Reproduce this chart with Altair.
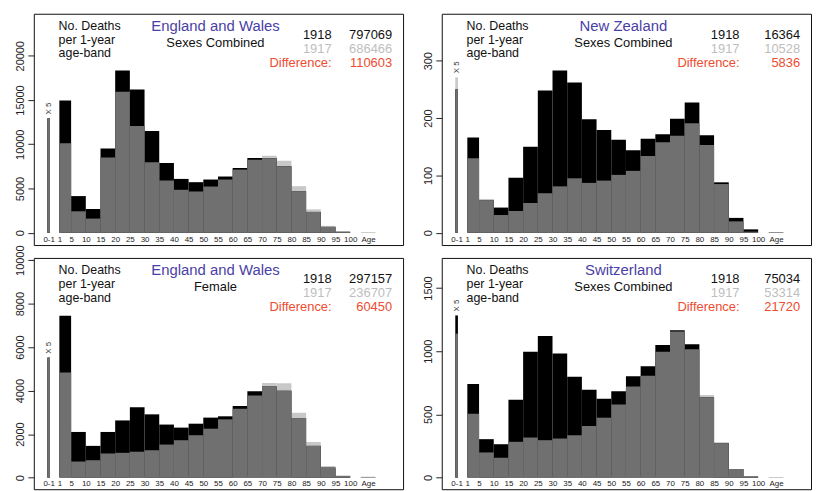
import altair as alt
import pandas as pd

FONT = "Liberation Sans"

# bins: infant (0-1, shown x5 scaled), 1-5, 5-10, ..., 95-100, 100+
bin_start = [-3.1, 1, 5, 10, 15, 20, 25, 30, 35, 40, 45, 50, 55, 60, 65, 70, 75, 80, 85, 90, 95, 103.6]
bin_end = [-2.2, 5, 10, 15, 20, 25, 30, 35, 40, 45, 50, 55, 60, 65, 70, 75, 80, 85, 90, 95, 100, 108.6]

x_tick_values = [-2.65, 1, 5, 10, 15, 20, 25, 30, 35, 40, 45, 50, 55, 60, 65, 70, 75, 80, 85, 90, 95, 100, 106.1]

left_label = ["No. Deaths", "per 1-year", "age-band"]

# England and Wales, sexes combined
ew_1918 = [12930, 14950, 4150, 2690, 9530, 18320, 16190, 11510, 7890, 6090, 5720, 6020, 6360, 7330, 8450, 8410, 7510, 4710, 2360, 670, 110, 10]
ew_1917 = [12930, 10130, 2430, 1610, 8520, 15920, 12070, 7960, 5910, 4860, 4670, 5230, 6020, 7140, 8260, 8710, 8150, 5270, 2650, 790, 190, 40]
# New Zealand, sexes combined
nz_1918 = [250, 166, 57, 44, 96, 150, 248, 283, 262, 198, 179, 162, 144, 164, 172, 199, 227, 170, 88, 26, 6, 0.5]
nz_1917 = [271, 130, 59, 31, 38, 52, 69, 81, 95, 87, 91, 101, 108, 134, 158, 169, 191, 153, 85, 20, 2, 1]
# England and Wales, female
ewf_1918 = [5520, 7440, 2100, 1460, 2100, 2630, 3240, 2910, 2440, 2300, 2480, 2760, 2820, 3290, 3970, 4190, 4000, 2740, 1460, 460, 76, 10]
ewf_1917 = [5520, 4840, 740, 800, 1110, 1140, 1190, 1260, 1520, 1720, 1950, 2250, 2680, 3170, 3780, 4350, 4340, 2980, 1640, 530, 90, 45]
# Switzerland, sexes combined
ch_1918 = [1283, 741, 304, 264, 615, 995, 1120, 982, 798, 696, 623, 683, 801, 880, 1050, 1165, 1055, 636, 275, 68, 8, 1]
ch_1917 = [1139, 505, 199, 157, 283, 317, 296, 309, 335, 408, 474, 579, 720, 806, 995, 1155, 1016, 654, 273, 68, 8, 1.5]

panels = [
    dict(title="England and Wales", sub="Sexes Combined", v18=ew_1918, v17=ew_1917,
         totals=["797069", "686466", "110603"], dom=[-1379, 24742], ticks=[0, 5000, 10000, 15000, 20000]),
    dict(title="New Zealand", sub="Sexes Combined", v18=nz_1918, v17=nz_1917,
         totals=["16364", "10528", "5836"], dom=[-21.3, 381.8], ticks=[0, 100, 200, 300]),
    dict(title="England and Wales", sub="Female", v18=ewf_1918, v17=ewf_1917,
         totals=["297157", "236707", "60450"], dom=[-534, 10105], ticks=[0, 2000, 4000, 6000, 8000, 10000]),
    dict(title="Switzerland", sub="Sexes Combined", v18=ch_1918, v17=ch_1917,
         totals=["75034", "53314", "21720"], dom=[-92, 1738], ticks=[0, 500, 1000, 1500]),
]

row_names = ["1918", "1917", "Difference:"]
row_colors = ["#111111", "#BEBEBE", "#EE4B30"]

W, H = 372, 233
DARK = "#707070"
LIGHT = "#C8C8C8"


def text_layer(t, x, y, align, size, color):
    return alt.Chart(pd.DataFrame({"t": [t]})).mark_text(
        align=align, baseline="middle", fontSize=size, color=color, font=FONT
    ).encode(text="t:N", x=alt.value(x), y=alt.value(y))


def make_panel(p):
    df = pd.DataFrame({"start": bin_start, "end": bin_end, "v18": p["v18"], "v17": p["v17"]})
    df["vmin"] = df[["v18", "v17"]].min(axis=1)
    df["vmax"] = df[["v18", "v17"]].max(axis=1)
    df["mid"] = (df["start"] + df["end"]) / 2
    df["base"] = 0

    xsc = alt.Scale(domain=[-7.7, 118], nice=False, zero=False)
    ysc = alt.Scale(domain=p["dom"], nice=False, zero=False)
    xax = alt.Axis(values=x_tick_values, ticks=False, domain=False, grid=False, offset=-12,
                   labelFontSize=8, labelPadding=2, labelBaseline="top", labelFlush=False,
                   labelOverlap=False, labelColor="#222222", title=None,
                   labelExpr="datum.value < 0 ? '0-1' : (datum.value > 101 ? 'Age' : datum.label)")
    yax = alt.Axis(values=p["ticks"], format="d", labelAngle=270, tickSize=6, domain=False,
                   grid=False, title=None, labelFontSize=11, labelPadding=2, labelAlign="center",
                   labelBaseline="bottom", labelColor="#222222", tickColor="#222222")

    base = alt.Chart(df)
    X = alt.X("start:Q", scale=xsc, axis=xax)

    def bar(field, color):
        return base.mark_rect(color=color).encode(
            x=X, x2="end", y=alt.Y(f"{field}:Q", scale=ysc, axis=yax), y2="base")

    layers = [bar("v17", LIGHT), bar("v18", "#000000"), bar("vmin", DARK)]

    x5 = base.transform_filter("datum.start < 0").mark_text(
        angle=270, align="left", baseline="middle", dx=4, fontSize=8, color="#333333", font=FONT
    ).encode(x=alt.X("mid:Q", scale=xsc, axis=xax), y=alt.Y("vmax:Q", scale=ysc, axis=yax),
             text=alt.value("X 5"))
    layers.append(x5)

    for i, line in enumerate(left_label):
        layers.append(text_layer(line, 25, 12 + 14 * i, "left", 12.5, "#111111"))
    layers.append(text_layer(p["title"], 183, 12, "center", 15, "#4A3FA6"))
    layers.append(text_layer(p["sub"], 183, 29, "center", 13, "#111111"))
    for i in range(3):
        layers.append(text_layer(row_names[i], 300, 21.5 + 14 * i, "right", 13, row_colors[i]))
        layers.append(text_layer(p["totals"][i], 361, 21.5 + 14 * i, "right", 13, row_colors[i]))

    return alt.layer(*layers).properties(
        width=W, height=H, view=alt.ViewBackground(stroke="#111111", strokeWidth=1))


chart = alt.concat(*[make_panel(p) for p in panels], columns=2,
                   spacing={"row": 13, "column": 39}, bounds="flush").properties(
    padding={"left": 6, "top": 3, "right": 0, "bottom": 0}
).configure_view(stroke="#111111", strokeWidth=1).configure(background="white")

chart.save("out.html", embed_options={"renderer": "svg", "actions": False})
